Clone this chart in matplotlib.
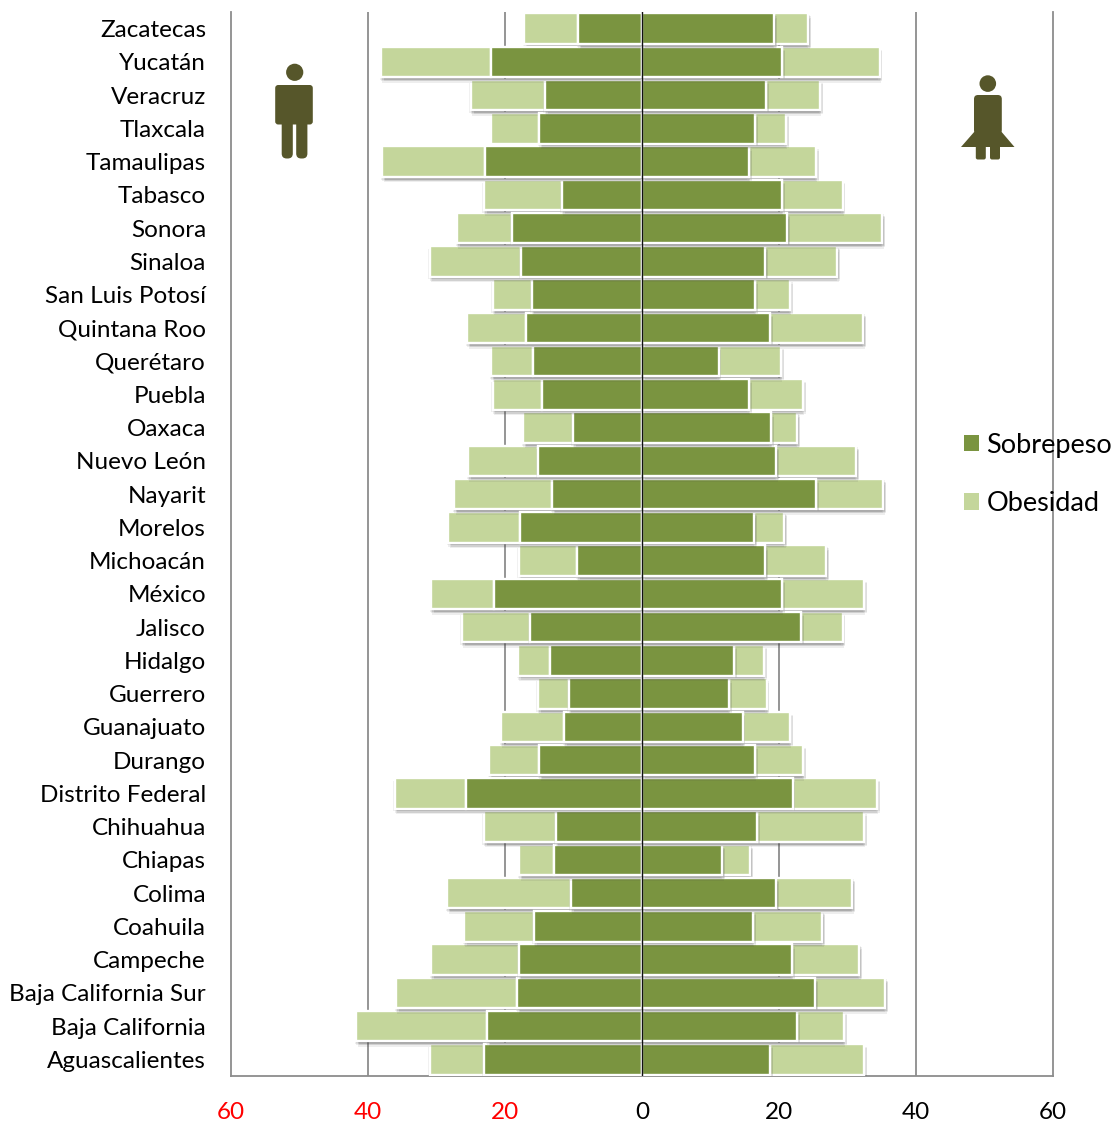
""" Sobrepeso y obesidad por entidad federativa, hombres y mujeres """

import matplotlib
matplotlib.use("Agg")
from matplotlib import pyplot as plt
from matplotlib import patheffects as pe
from matplotlib.patches import Circle, FancyBboxPatch, Patch, Polygon

plt.rcParams['font.family'] = ['Lato', 'DejaVu Sans']

estados = ["Aguascalientes", "Baja California", "Baja California Sur", "Campeche",
           "Coahuila", "Colima", "Chiapas", "Chihuahua", "Distrito Federal", "Durango",
           "Guanajuato", "Guerrero", "Hidalgo", "Jalisco", "México", "Michoacán",
           "Morelos", "Nayarit", "Nuevo León", "Oaxaca", "Puebla", "Querétaro",
           "Quintana Roo", "San Luis Potosí", "Sinaloa", "Sonora", "Tabasco",
           "Tamaulipas", "Tlaxcala", "Veracruz", "Yucatán", "Zacatecas"]

sobrepeso_h = [23.1, 22.6, 18.2, 18.0, 15.8, 10.4, 12.8, 12.6, 25.7, 15.0, 11.4, 10.7,
               13.4, 16.4, 21.6, 9.5, 17.8, 13.1, 15.2, 10.1, 14.6, 15.9, 16.9, 16.1,
               17.7, 19.0, 11.7, 22.9, 15.0, 14.2, 22.0, 9.3]
obesidad_h = [7.9, 19.1, 17.7, 12.8, 10.2, 18.0, 5.1, 10.5, 10.4, 7.3, 9.2, 4.5,
              4.7, 9.9, 9.2, 8.5, 10.5, 14.3, 10.2, 7.2, 7.2, 6.1, 8.6, 5.7,
              13.3, 8.0, 11.4, 15.0, 7.0, 10.8, 16.1, 7.9]
sobrepeso_m = [18.7, 22.6, 25.3, 21.9, 16.2, 19.6, 11.7, 16.8, 22.0, 16.5, 14.7, 12.7,
               13.4, 23.2, 20.4, 18.0, 16.4, 25.4, 19.6, 18.8, 15.6, 11.2, 18.7, 16.5,
               18.0, 21.2, 20.4, 15.6, 16.5, 18.1, 20.4, 19.3]
obesidad_m = [13.7, 6.9, 10.2, 9.8, 10.1, 11.1, 4.1, 15.6, 12.3, 7.0, 6.9, 5.5,
              4.4, 6.1, 12.0, 8.9, 4.4, 9.8, 11.7, 3.9, 7.9, 9.1, 13.6, 5.1,
              10.5, 13.9, 8.9, 9.8, 4.5, 7.9, 14.3, 5.0]

ticks = [-60, -40, -20, 0, 20, 40, 60]
COLOR_SOB = "#7a9440"
COLOR_OBE = "#c4d69b"
COLOR_ICON = "#56562a"
COLOR_GRID = "#8c8c8c"

W, H = 1116, 1123
fig = plt.figure(figsize=(W / 100, H / 100), dpi=100)
ax = fig.add_axes([231 / W, (H - 1076) / H, 822 / W, 1064 / H])

# white outline plus a soft shadow on each bar, built from a few faint offset copies
desvios = [(0, -1), (-1, -2), (1, -1), (1, -2), (2, -3), (0, -3), (2, -2), (1, -4)]
sombra = [pe.SimplePatchShadow(offset=d, shadow_rgbFace="#444444", alpha=0.09) for d in desvios]
sombra.append(pe.Normal())
borde = dict(height=0.91, edgecolor="white", linewidth=1.7, zorder=3)

y = list(range(len(estados)))
izq_total = [-(a + b) for a, b in zip(sobrepeso_h, obesidad_h)]
izq_sob = [-a for a in sobrepeso_h]

barras = [
    ax.barh(y, obesidad_h, left=izq_total, color=COLOR_OBE, **borde),
    ax.barh(y, obesidad_m, left=sobrepeso_m, color=COLOR_OBE, **borde),
    ax.barh(y, sobrepeso_h, left=izq_sob, color=COLOR_SOB, **borde),
    ax.barh(y, sobrepeso_m, color=COLOR_SOB, **borde),
]
for grupo in barras:
    for b in grupo:
        b.set_path_effects(sombra)

ax.set_xlim(-60, 60)
ax.set_ylim(-0.5, len(estados) - 0.5)
ax.set_yticks(y, estados)
ax.set_xticks(ticks, [str(abs(t)) for t in ticks])
ax.tick_params(axis="both", length=0, labelsize=17.5, labelcolor="black")
ax.tick_params(axis="y", pad=18)
ax.tick_params(axis="x", pad=19)
for t, lab in zip(ticks, ax.get_xticklabels()):
    if t < 0:
        lab.set_color("#ff0000")

for t in (-40, -20, 20, 40):
    ax.axvline(t, color=COLOR_GRID, linewidth=1.3, zorder=1)
ax.axvline(0, color="#111111", linewidth=1.0, zorder=5)

ax.spines["top"].set_visible(False)
for lado in ("left", "right", "bottom"):
    ax.spines[lado].set_color(COLOR_GRID)
    ax.spines[lado].set_linewidth(1.3)

manijas = [Patch(facecolor=COLOR_SOB, edgecolor="none"), Patch(facecolor=COLOR_OBE, edgecolor="none")]
fig.legend(manijas, ["Sobrepeso", "Obesidad"], loc="center left",
           bbox_to_anchor=(964 / W, (H - 474.5) / H), frameon=False, fontsize=19.5,
           borderpad=0, borderaxespad=0, handlelength=0.56, handleheight=0.56,
           handletextpad=0.27, labelspacing=1.24)

# figures of a man and a woman, drawn in pixel coordinates over the chart
capa = fig.add_axes([0, 0, 1, 1], zorder=10)
capa.set_xlim(0, W)
capa.set_ylim(H, 0)
capa.axis("off")


def barra_redonda(x0, y0, x1, y1, r):
    capa.add_patch(FancyBboxPatch((x0 + r, y0 + r), x1 - x0 - 2 * r, y1 - y0 - 2 * r,
                                  boxstyle="round,pad=%g,rounding_size=%g" % (r, r),
                                  facecolor=COLOR_ICON, edgecolor="none"))


# hombre
capa.add_patch(Circle((294.7, 72.3), 8.6, facecolor=COLOR_ICON, edgecolor="none"))
barra_redonda(275.2, 85, 312.8, 124.5, 3)
barra_redonda(281.7, 118, 292.8, 158.5, 5)
barra_redonda(296.2, 118, 307.4, 158.5, 5)

# mujer
capa.add_patch(Circle((987.8, 83.6), 8.3, facecolor=COLOR_ICON, edgecolor="none"))
barra_redonda(974, 95, 1001.8, 134, 4)
capa.add_patch(Polygon([(975, 131), (961, 147), (1014.5, 147), (1000.8, 131)],
                       facecolor=COLOR_ICON, edgecolor="none"))
barra_redonda(975.8, 140, 985.8, 159.5, 2)
barra_redonda(990, 140, 1000, 159.5, 2)

fig.savefig("out.png", dpi=100)
